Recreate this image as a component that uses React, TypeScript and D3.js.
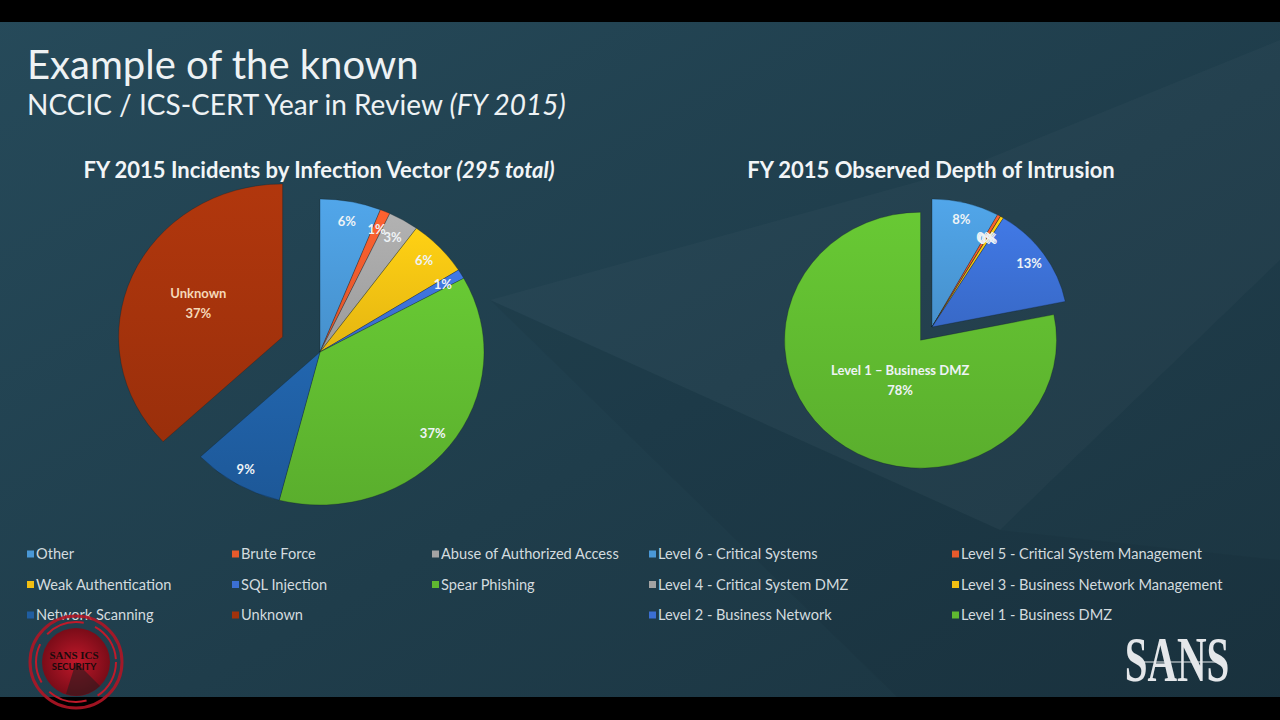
import React from 'react';
import * as d3 from 'd3';

const vectorNames = ['Other', 'Brute Force', 'Abuse of Authorized Access', 'Weak Authentication', 'SQL Injection', 'Spear Phishing', 'Network Scanning', 'Unknown'];
const vectorValues = [6, 1, 3, 6, 1, 37, 9, 37];
const vectorColors = ['#4a98d6', '#e85a2c', '#a3a3a3', '#f1bf12', '#3b6fd2', '#5fb830', '#1f5da0', '#a2320c'];

const depthNames = ['Level 6 - Critical Systems', 'Level 5 - Critical System Management', 'Level 4 - Critical System DMZ', 'Level 3 - Business Network Management', 'Level 2 - Business Network', 'Level 1 - Business DMZ'];
const depthValues = [8, 0.4, 0, 0.4, 13, 78.2];
const depthColors = ['#4a98d6', '#e85a2c', '#a3a3a3', '#f1bf12', '#3b6fd2', '#5fb830'];

const FONT = 'Lato, "Open Sans", sans-serif';

type PieSpec = {
  id: string;
  values: number[];
  colors: string[];
  cx: number;
  cy: number;
  rx: number;
  ry: number;
  explode: number[];
  labelFrac: number[];
  labelDx: number[];
};

function Pie({ spec, labels }: { spec: PieSpec; labels: (i: number, v: number) => string[] }) {
  const { values, colors, cx, cy, rx, ry, explode, labelFrac, labelDx } = spec;
  const sx = rx / ry;
  const arcs = d3.pie<number>().sort(null).value(d => d)(values);
  const arc = d3.arc<d3.PieArcDatum<number>>().innerRadius(0).outerRadius(ry);
  return (
    <g>
      <defs>
        {colors.map((c, i) => (
          <linearGradient key={i} id={`${spec.id}g${i}`} x1="0" y1="0" x2="0" y2="1">
            <stop offset="0%" stopColor={d3.color(c)!.brighter(0.25).formatHex()} />
            <stop offset="100%" stopColor={d3.color(c)!.darker(0.15).formatHex()} />
          </linearGradient>
        ))}
      </defs>
      {arcs.map((a, i) => {
        const mid = (a.startAngle + a.endAngle) / 2;
        const ox = Math.sin(mid) * explode[i] * sx;
        const oy = -Math.cos(mid) * explode[i];
        return (
          <g key={i} transform={`translate(${cx + ox},${cy + oy}) scale(${sx},1)`}>
            <path d={arc(a) || ''} fill={`url(#${spec.id}g${i})`} stroke="rgba(10,25,30,0.35)" strokeWidth={0.8} />
          </g>
        );
      })}
      {arcs.map((a, i) => {
        const mid = (a.startAngle + a.endAngle) / 2;
        const ox = Math.sin(mid) * explode[i] * sx;
        const oy = -Math.cos(mid) * explode[i];
        const f = labelFrac[i];
        const lx = cx + ox + Math.sin(mid) * rx * f + labelDx[i];
        const ly = cy + oy - Math.cos(mid) * ry * f;
        const lines = labels(i, a.value);
        return (
          <text key={'l' + i} x={lx} y={ly} textAnchor="middle" fontFamily={FONT} fontWeight={700} fontSize={13}
            fill={i === 7 && spec.id === 'v' ? '#f5d8b8' : '#eef3f6'}>
            {lines.map((t, k) => (
              <tspan key={k} x={lx} dy={k === 0 ? (lines.length === 1 ? 4.5 : -5) : 20.5}>{t}</tspan>
            ))}
          </text>
        );
      })}
    </g>
  );
}

function Legend({ names, colors, x0, colX, y0, rowH, cols }: { names: string[]; colors: string[]; x0: number; colX: number[]; y0: number; rowH: number; cols: number }) {
  return (
    <g>
      {names.map((n, i) => {
        const x = x0 + colX[i % cols];
        const y = y0 + Math.floor(i / cols) * rowH;
        return (
          <g key={n}>
            <rect x={x} y={y - 8.5} width={7} height={7} fill={colors[i]} />
            <text x={x + 9} y={y} fontFamily={FONT} fontSize={14.6} fill="#d3dbdf">{n}</text>
          </g>
        );
      })}
    </g>
  );
}

export default function App() {
  const left: PieSpec = {
    id: 'v', values: vectorValues, colors: vectorColors,
    cx: 320, cy: 352, rx: 164, ry: 153,
    explode: [0, 0, 0, 0, 0, 0, 0, 38],
    labelFrac: [0.87, 0.87, 0.87, 0.87, 0.87, 0.87, 0.89, 0.56],
    labelDx: [0, 0, 0, 0, 0, 0, 0, 0],
  };
  const right: PieSpec = {
    id: 'd', values: depthValues, colors: depthColors,
    cx: 932, cy: 327, rx: 136, ry: 128,
    explode: [0, 0, 0, 0, 0, 17],
    labelFrac: [0.87, 0.8, 0.8, 0.8, 0.87, 0.4],
    labelDx: [0, 0, 0, 0, 0, 14],
  };
  return (
    <svg width={1280} height={720} style={{ position: 'absolute', left: 0, top: 0, display: 'block' }}>
      <defs>
        <linearGradient id="bg" x1="0" y1="0" x2="1" y2="1">
          <stop offset="0%" stopColor="#264a5a" />
          <stop offset="55%" stopColor="#1f3d4b" />
          <stop offset="100%" stopColor="#1b3440" />
        </linearGradient>
        <radialGradient id="logo" cx="0.5" cy="0.5" r="0.5">
          <stop offset="0%" stopColor="#c0182a" />
          <stop offset="100%" stopColor="#7a0c18" />
        </radialGradient>
      </defs>
      <rect width={1280} height={720} fill="url(#bg)" />
      <polygon points="490,300 960,170 1280,40 1280,260 1000,530" fill="#ffffff" opacity={0.025} />
      <polygon points="490,300 1000,530 1280,560 1280,700 900,700" fill="#000000" opacity={0.04} />
      <rect width={1280} height={22} fill="#000" />
      <rect y={697} width={1280} height={23} fill="#000" />

      <text x={27} y={79} fontFamily={FONT} fontSize={40} fill="#eef2f4">Example of the known</text>
      <text x={27} y={115} fontFamily={FONT} fontSize={28} fill="#eef2f4">
        NCCIC / ICS-CERT Year in Review <tspan fontStyle="italic">(FY 2015)</tspan>
      </text>

      <text x={319} y={178} textAnchor="middle" fontFamily={FONT} fontWeight={700} fontSize={22} fill="#f2f5f7">
        FY 2015 Incidents by Infection Vector <tspan fontStyle="italic">(295 total)</tspan>
      </text>
      <text x={931} y={178} textAnchor="middle" fontFamily={FONT} fontWeight={700} fontSize={22} fill="#f2f5f7">
        FY 2015 Observed Depth of Intrusion
      </text>

      <Pie spec={left} labels={(i, v) => (i === 7 ? [vectorNames[i], `${Math.round(v)}%`] : [`${Math.round(v)}%`])} />
      <Pie spec={right} labels={(i, v) => (i === 5 ? ['Level 1 \u2013 Business DMZ', `${Math.round(v)}%`] : [`${Math.round(v)}%`])} />

      <Legend names={vectorNames} colors={vectorColors} x0={27} colX={[0, 205, 405]} y0={559} rowH={30.5} cols={3} />
      <Legend names={depthNames} colors={depthColors} x0={649} colX={[0, 303]} y0={559} rowH={30.5} cols={2} />

      <g transform="translate(76,662)">
        <circle r={46} fill="none" stroke="#b01525" strokeWidth={3} opacity={0.9} />
        <circle r={40} fill="none" stroke="#c01a2a" strokeWidth={2} strokeDasharray="40 12" />
        <circle r={34} fill="url(#logo)" />
        <path d="M0,0 L24,24 A34,34 0 0 1 -10,32 Z" fill="#2a1a1e" opacity={0.6} />
        <text x={-2} y={-3} textAnchor="middle" fontFamily="Liberation Serif, serif" fontWeight={700} fontSize={11} fill="#1a0a0c">SANS ICS</text>
        <text x={-2} y={8} textAnchor="middle" fontFamily={FONT} fontWeight={700} fontSize={9.5} fill="#1a0a0c">SECURITY</text>
      </g>

      <g transform="translate(1177,681) scale(0.64,1)">
        <text x={0} y={0} textAnchor="middle" fontFamily="Liberation Serif, serif" fontWeight={700} fontSize={64} fill="#e4e7ea">SANS</text>
      </g>
      <line x1={1138} y1={662} x2={1216} y2={662} stroke="#e4e7ea" strokeWidth={1.2} />
    </svg>
  );
}
